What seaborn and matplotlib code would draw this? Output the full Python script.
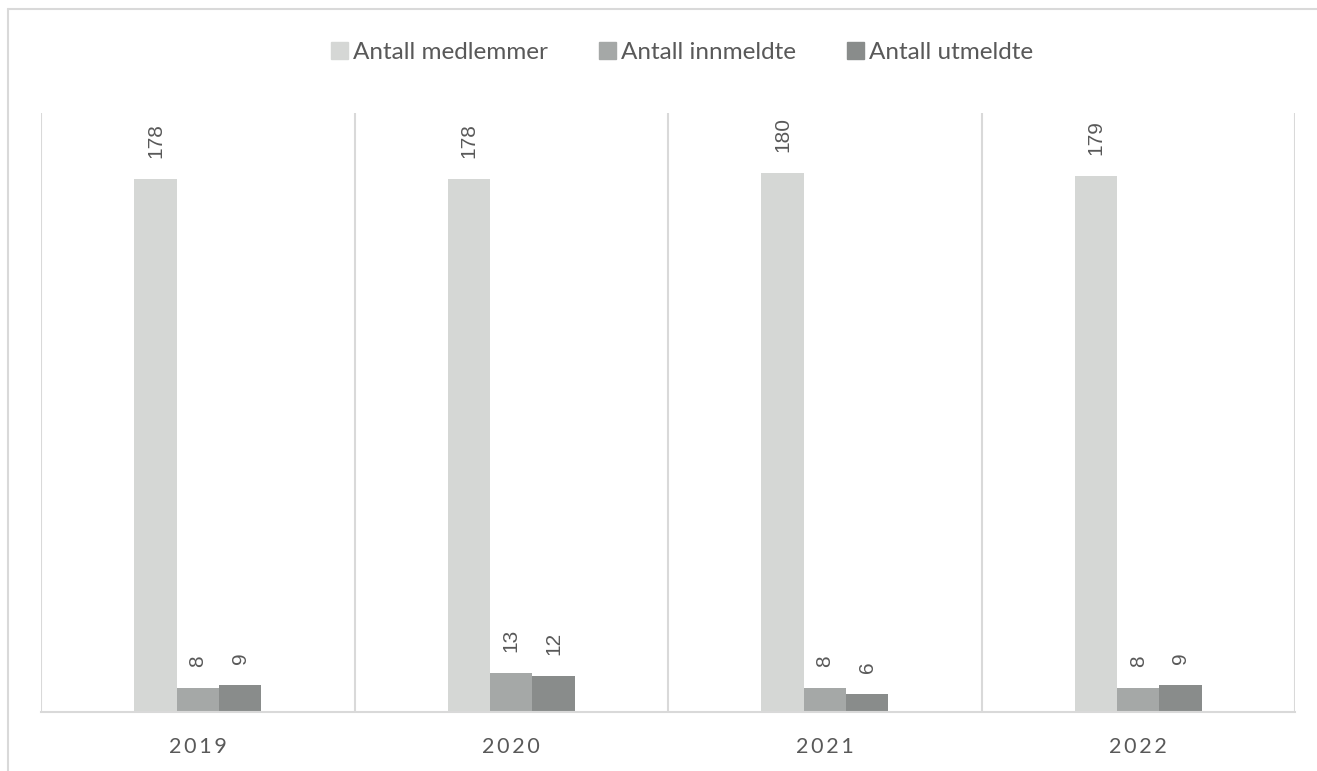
import matplotlib
matplotlib.use("Agg")
import matplotlib.pyplot as plt
from matplotlib.lines import Line2D
import pandas as pd
import seaborn as sns

years = ["2019", "2020", "2021", "2022"]
series = ["Antall medlemmer", "Antall innmeldte", "Antall utmeldte"]
medlemmer = [178, 178, 180, 179]
innmeldte = [8, 13, 8, 8]
utmeldte = [9, 12, 6, 9]
colors = ["#D5D7D5", "#A5A8A7", "#898C8B"]

df = pd.DataFrame({
    "year": years * 3,
    "series": [series[0]] * 4 + [series[1]] * 4 + [series[2]] * 4,
    "value": medlemmer + innmeldte + utmeldte,
})

sns.set_style("white")
plt.rcParams["font.family"] = ["Lato", "DejaVu Sans"]

fig = plt.figure(figsize=(13.17, 7.71), dpi=100)
ax = fig.add_axes([41 / 1317, 59 / 771, 1254 / 1317, 599 / 771])

sns.barplot(data=df, x="year", y="value", hue="series", palette=colors,
            width=0.405, gap=0, saturation=1, legend=False, linewidth=0, ax=ax)

grid = "#D9D9D9"
for xb in [-0.5, 0.5, 1.5, 2.5, 3.5]:
    ax.axvline(xb, color=grid, lw=1.5, zorder=0)

for cont in ax.containers:
    ax.bar_label(cont, rotation=90, padding=15, fontsize=15, color="#595959",
                 family="Liberation Sans")

ax.set_xlim(-0.5, 3.5)
ax.set_ylim(0, 200)
ax.set_yticks([])
ax.set_xlabel("")
ax.set_ylabel("")
ax.set_xticks(range(4))
ax.set_xticklabels(["\u2009".join(y) for y in years], fontsize=15.5, color="#595959")
ax.tick_params(axis="x", length=0, pad=18)
for s in ["top", "right", "left"]:
    ax.spines[s].set_visible(False)
ax.spines["bottom"].set_color(grid)
ax.spines["bottom"].set_linewidth(1.5)

handles = [plt.Rectangle((0, 0), 1, 1, color=c) for c in colors]
fig.legend(handles, series, loc="center", bbox_to_anchor=(0.518, 0.932), ncol=3,
           frameon=False, fontsize=17.5, labelcolor="#595959",
           handlelength=0.7, handleheight=0.7, handletextpad=0.2,
           columnspacing=2.1)

# outer chart border (partly cropped)
fig.add_artist(Line2D([8 / 1317, 8 / 1317], [0, 1 - 9 / 771], color=grid, lw=1.5))
fig.add_artist(Line2D([8 / 1317, 1], [1 - 9 / 771, 1 - 9 / 771], color=grid, lw=1.5))

fig.savefig("out.png", dpi=100)
